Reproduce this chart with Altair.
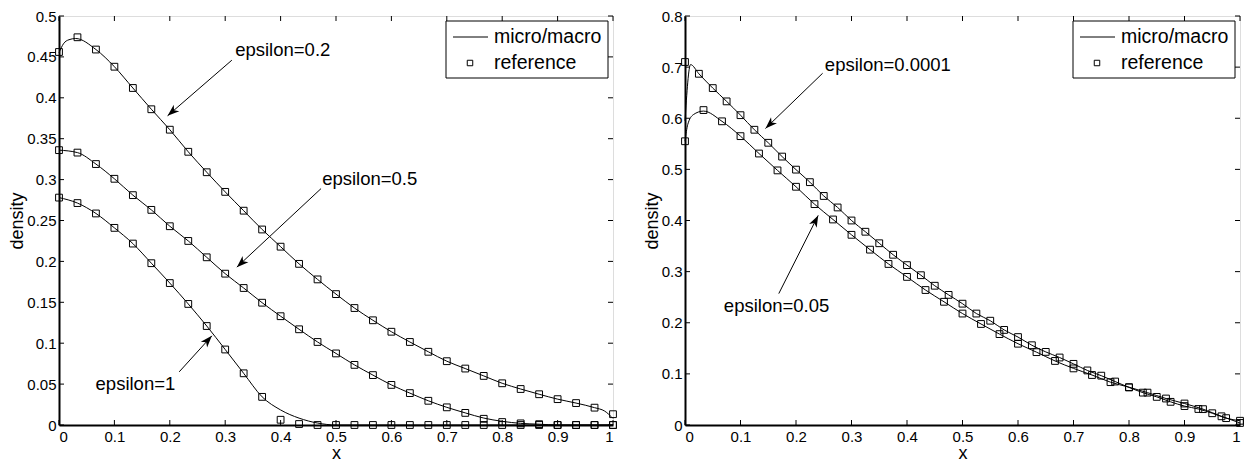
import math
import altair as alt
import pandas as pd

FONT = "Liberation Sans"
W1, W2, H = 554, 555, 409

# ---------------- data ----------------
# left panel: squares at x = k/30
L_sq_x = [k / 30 for k in range(31)]
L_sq_e02 = [0.456, 0.474, 0.459, 0.438, 0.412, 0.386, 0.361, 0.334, 0.309, 0.285,
            0.262, 0.239, 0.218, 0.197, 0.178, 0.160, 0.143, 0.128, 0.114, 0.1015,
            0.0895, 0.078, 0.069, 0.060, 0.051, 0.044, 0.0376, 0.0316, 0.0268, 0.0212, 0.0132]
L_sq_e05 = [0.336, 0.333, 0.319, 0.301, 0.281, 0.263, 0.243, 0.225, 0.205, 0.185,
            0.1675, 0.1495, 0.133, 0.117, 0.1015, 0.0875, 0.0735, 0.061, 0.049, 0.039,
            0.0296, 0.0216, 0.0148, 0.0076, 0.0036, 0.002, 0.001, 0.0, 0.0, 0.0, 0.0]
L_sq_e1 = [0.278, 0.2713, 0.2586, 0.241, 0.2218, 0.1978, 0.1735, 0.148, 0.121, 0.0923,
           0.0632, 0.0344, 0.0064, 0.0012, 0.0, 0.0, 0.0, 0.0, 0.0, 0.0,
           0.0, 0.0, 0.0, 0.0, 0.0, 0.0, 0.0, 0.0, 0.0, 0.0, 0.0]

# left panel: micro/macro lines
L_ln_e02_x = [0.0, 0.008, 0.018, 0.03, 0.0667, 0.1, 0.1333, 0.1667, 0.2, 0.2333, 0.2667, 0.3,
              0.3333, 0.3667, 0.4, 0.4333, 0.4667, 0.5, 0.5333, 0.5667, 0.6, 0.6333, 0.6667,
              0.7, 0.7333, 0.7667, 0.8, 0.8333, 0.8667, 0.9, 0.9333, 0.9667, 0.985, 1.0]
L_ln_e02_y = [0.455, 0.466, 0.471, 0.4725, 0.459, 0.438, 0.412, 0.386, 0.361, 0.334, 0.309, 0.285,
              0.262, 0.239, 0.218, 0.197, 0.178, 0.160, 0.143, 0.128, 0.114, 0.1015, 0.0895,
              0.078, 0.069, 0.060, 0.051, 0.044, 0.0376, 0.0316, 0.0268, 0.0212, 0.017, 0.008]
L_ln_e05_x = L_sq_x
L_ln_e05_y = [0.336, 0.333, 0.319, 0.301, 0.281, 0.263, 0.243, 0.225, 0.205, 0.185,
              0.1675, 0.1495, 0.133, 0.117, 0.1015, 0.0875, 0.0735, 0.061, 0.049, 0.039,
              0.0296, 0.0216, 0.0148, 0.0085, 0.0045, 0.002, 0.001, 0.0, 0.0, 0.0, 0.0]
L_ln_e1_x = [0.0, 0.0333, 0.0667, 0.1, 0.1333, 0.1667, 0.2, 0.2333, 0.2667, 0.3, 0.3333,
             0.3667, 0.4, 0.4333, 0.4667, 0.5, 0.6, 0.7, 0.8, 0.9, 1.0]
L_ln_e1_y = [0.278, 0.2713, 0.2586, 0.241, 0.2218, 0.1978, 0.1735, 0.148, 0.121, 0.0923, 0.0632,
             0.0344, 0.0184, 0.0084, 0.0024, 0.0, 0.0, 0.0, 0.0, 0.0, 0.0]

# right panel: squares
R_sq_e1e4_x = [k / 40 for k in range(41)]
R_sq_e1e4 = [0.710, 0.687, 0.659, 0.633, 0.606, 0.5775, 0.552, 0.525, 0.4995, 0.475,
             0.448, 0.4255, 0.400, 0.378, 0.3555, 0.333, 0.3127, 0.293, 0.2724, 0.2545,
             0.2373, 0.218, 0.204, 0.186, 0.172, 0.156, 0.143, 0.132, 0.1196, 0.1067,
             0.0965, 0.085, 0.0735, 0.0633, 0.055, 0.0453, 0.037, 0.0313, 0.023, 0.0134, 0.0083]
R_sq_e005_x = [k / 30 for k in range(31)]
R_sq_e005 = [0.555, 0.616, 0.594, 0.565, 0.531, 0.498, 0.466, 0.432, 0.402, 0.372,
             0.343, 0.315, 0.2897, 0.264, 0.241, 0.218, 0.1976, 0.1778, 0.159, 0.1425,
             0.1253, 0.1107, 0.0978, 0.0838, 0.074, 0.0633, 0.0518, 0.042, 0.031, 0.017, 0.004]

# right panel: micro/macro lines
R_ln_e1e4_x = [0.0, 0.01] + [k / 40 for k in range(1, 41)]
R_ln_e1e4_y = [0.595, 0.705] + R_sq_e1e4[1:]
R_ln_e005_x = [0.0, 0.005, 0.015, 0.0333] + [k / 30 for k in range(2, 31)]
R_ln_e005_y = [0.555, 0.588, 0.607, 0.614] + R_sq_e005[2:]

# annotations: label, text x, text y, arrow start x, y, arrow tip x, y
L_notes = [("epsilon=0.2", 0.318, 0.459, 0.312, 0.446, 0.196, 0.378),
           ("epsilon=0.5", 0.475, 0.301, 0.473, 0.289, 0.321, 0.193),
           ("epsilon=1", 0.066, 0.050, 0.217, 0.065, 0.276, 0.109)]
R_notes = [("epsilon=0.0001", 0.252, 0.704, 0.248, 0.688, 0.145, 0.580),
           ("epsilon=0.05", 0.070, 0.232, 0.169, 0.257, 0.240, 0.410)]

legend_labels = ["micro/macro", "reference"]
x_ticks = [round(0.1 * k, 1) for k in range(11)]
L_y_ticks = [round(0.05 * k, 2) for k in range(11)]
R_y_ticks = [round(0.1 * k, 1) for k in range(9)]

ARROW = "M0,0L-1,-0.36L-0.72,0L-1,0.36Z"


def frame(pairs):
    rows = []
    for name, xs, ys in pairs:
        for a, b in zip(xs, ys):
            rows.append({"x": a, "y": b, "series": name})
    return pd.DataFrame(rows)


def panel(sq, ln, notes, ymax, yticks, W):
    xs = alt.Scale(domain=[0, 1], nice=False, zero=False)
    ys = alt.Scale(domain=[0, ymax], nice=False, zero=False)
    one = pd.DataFrame({"a": [0]})

    xax = alt.Axis(values=x_ticks, format="~g", ticks=False, tickSize=0, grid=False,
                   domainColor="black", domainWidth=2, labelFontSize=15, labelColor="black",
                   labelPadding=4, labelFont=FONT, title="x", titleFontSize=18,
                   titleFontWeight="normal", titleFont=FONT, titleColor="black", titlePadding=0)
    yax = alt.Axis(values=yticks, format="~g", ticks=False, tickSize=0, grid=False,
                   domainColor="black", domainWidth=2, labelFontSize=15, labelColor="black",
                   labelPadding=3, labelFont=FONT, title="density", titleFontSize=18,
                   titleFontWeight="normal", titleFont=FONT, titleColor="black", titlePadding=0)

    def X(f):
        return alt.X(f, scale=xs, axis=xax)

    def Y(f):
        return alt.Y(f, scale=ys, axis=yax)

    lines = alt.Chart(frame(ln)).mark_line(color="black", strokeWidth=1, interpolate="monotone").encode(
        x=X("x:Q"), y=Y("y:Q"), detail="series:N",
    )
    pts = alt.Chart(frame(sq)).mark_point(shape="square", size=46, filled=False, color="black",
                                          strokeWidth=1, opacity=1).encode(
        x=X("x:Q"), y=Y("y:Q"),
    )

    xt = pd.DataFrame({"x": x_ticks})
    yt = pd.DataFrame({"y": yticks})
    tick = dict(color="black", strokeWidth=1)
    t_bot = alt.Chart(xt).mark_rule(**tick).encode(x=X("x:Q"), y=alt.value(H), y2=alt.value(H - 5))
    t_top = alt.Chart(xt).mark_rule(**tick).encode(x=X("x:Q"), y=alt.value(0), y2=alt.value(5))
    t_lft = alt.Chart(yt).mark_rule(**tick).encode(y=Y("y:Q"), x=alt.value(0), x2=alt.value(5))
    t_rgt = alt.Chart(yt).mark_rule(**tick).encode(y=Y("y:Q"), x=alt.value(W - 5), x2=alt.value(W))

    nd = pd.DataFrame(notes, columns=["label", "tx", "ty", "x0", "y0", "x1", "y1"])
    angs = []
    for _, r in nd.iterrows():
        dx = (r.x1 - r.x0) * W
        dy = -(r.y1 - r.y0) * H / ymax
        angs.append(math.degrees(math.atan2(dy, dx)) % 360)
    nd["ang"] = angs

    texts = alt.Chart(nd).mark_text(align="left", baseline="middle", fontSize=18.5, font=FONT,
                                    color="black").encode(
        x=X("tx:Q"), y=Y("ty:Q"), text="label:N")
    shafts = alt.Chart(nd).mark_rule(color="black", strokeWidth=1).encode(
        x=X("x0:Q"), y=Y("y0:Q"), x2="x1:Q", y2="y1:Q")
    heads = alt.Chart(nd).mark_point(shape=ARROW, size=560, filled=True, color="black",
                                     strokeWidth=0, opacity=1).encode(
        x=X("x1:Q"), y=Y("y1:Q"), angle=alt.Angle("ang:Q", scale=None))

    lx0, lx1 = W - 167, W - 5
    box = alt.Chart(one).mark_rect(fill="white", stroke="black", strokeWidth=1).encode(
        x=alt.value(lx0), x2=alt.value(lx1), y=alt.value(5), y2=alt.value(62))
    lg_line = alt.Chart(one).mark_rule(color="black", strokeWidth=1).encode(
        x=alt.value(lx0 + 7), x2=alt.value(lx0 + 42), y=alt.value(21))
    lg_pt = alt.Chart(one).mark_point(shape="square", size=30, filled=False, color="black",
                                      strokeWidth=1, opacity=1).encode(
        x=alt.value(lx0 + 24), y=alt.value(47))
    lg_t1 = alt.Chart(one).mark_text(align="left", baseline="middle", fontSize=19.5, font=FONT,
                                     color="black").encode(
        x=alt.value(lx0 + 48), y=alt.value(21), text=alt.value(legend_labels[0]))
    lg_t2 = alt.Chart(one).mark_text(align="left", baseline="middle", fontSize=19.5, font=FONT,
                                     color="black").encode(
        x=alt.value(lx0 + 48), y=alt.value(47), text=alt.value(legend_labels[1]))

    return alt.layer(lines, pts, t_bot, t_top, t_lft, t_rgt, shafts, heads, texts,
                     box, lg_line, lg_pt, lg_t1, lg_t2).properties(width=W, height=H)


left = panel(
    [("e02", L_sq_x, L_sq_e02), ("e05", L_sq_x, L_sq_e05), ("e1", L_sq_x, L_sq_e1)],
    [("e02", L_ln_e02_x, L_ln_e02_y), ("e05", L_ln_e05_x, L_ln_e05_y), ("e1", L_ln_e1_x, L_ln_e1_y)],
    L_notes, 0.5, L_y_ticks, W1)
right = panel(
    [("a", R_sq_e1e4_x, R_sq_e1e4), ("b", R_sq_e005_x, R_sq_e005)],
    [("a", R_ln_e1e4_x, R_ln_e1e4_y), ("b", R_ln_e005_x, R_ln_e005_y)],
    R_notes, 0.8, R_y_ticks, W2)

chart = alt.hconcat(left, right, spacing=23).properties(padding=0).configure_view(
    stroke="black", strokeWidth=1).configure(background="white")

chart.save("out.html", embed_options={"renderer": "svg", "actions": False})
